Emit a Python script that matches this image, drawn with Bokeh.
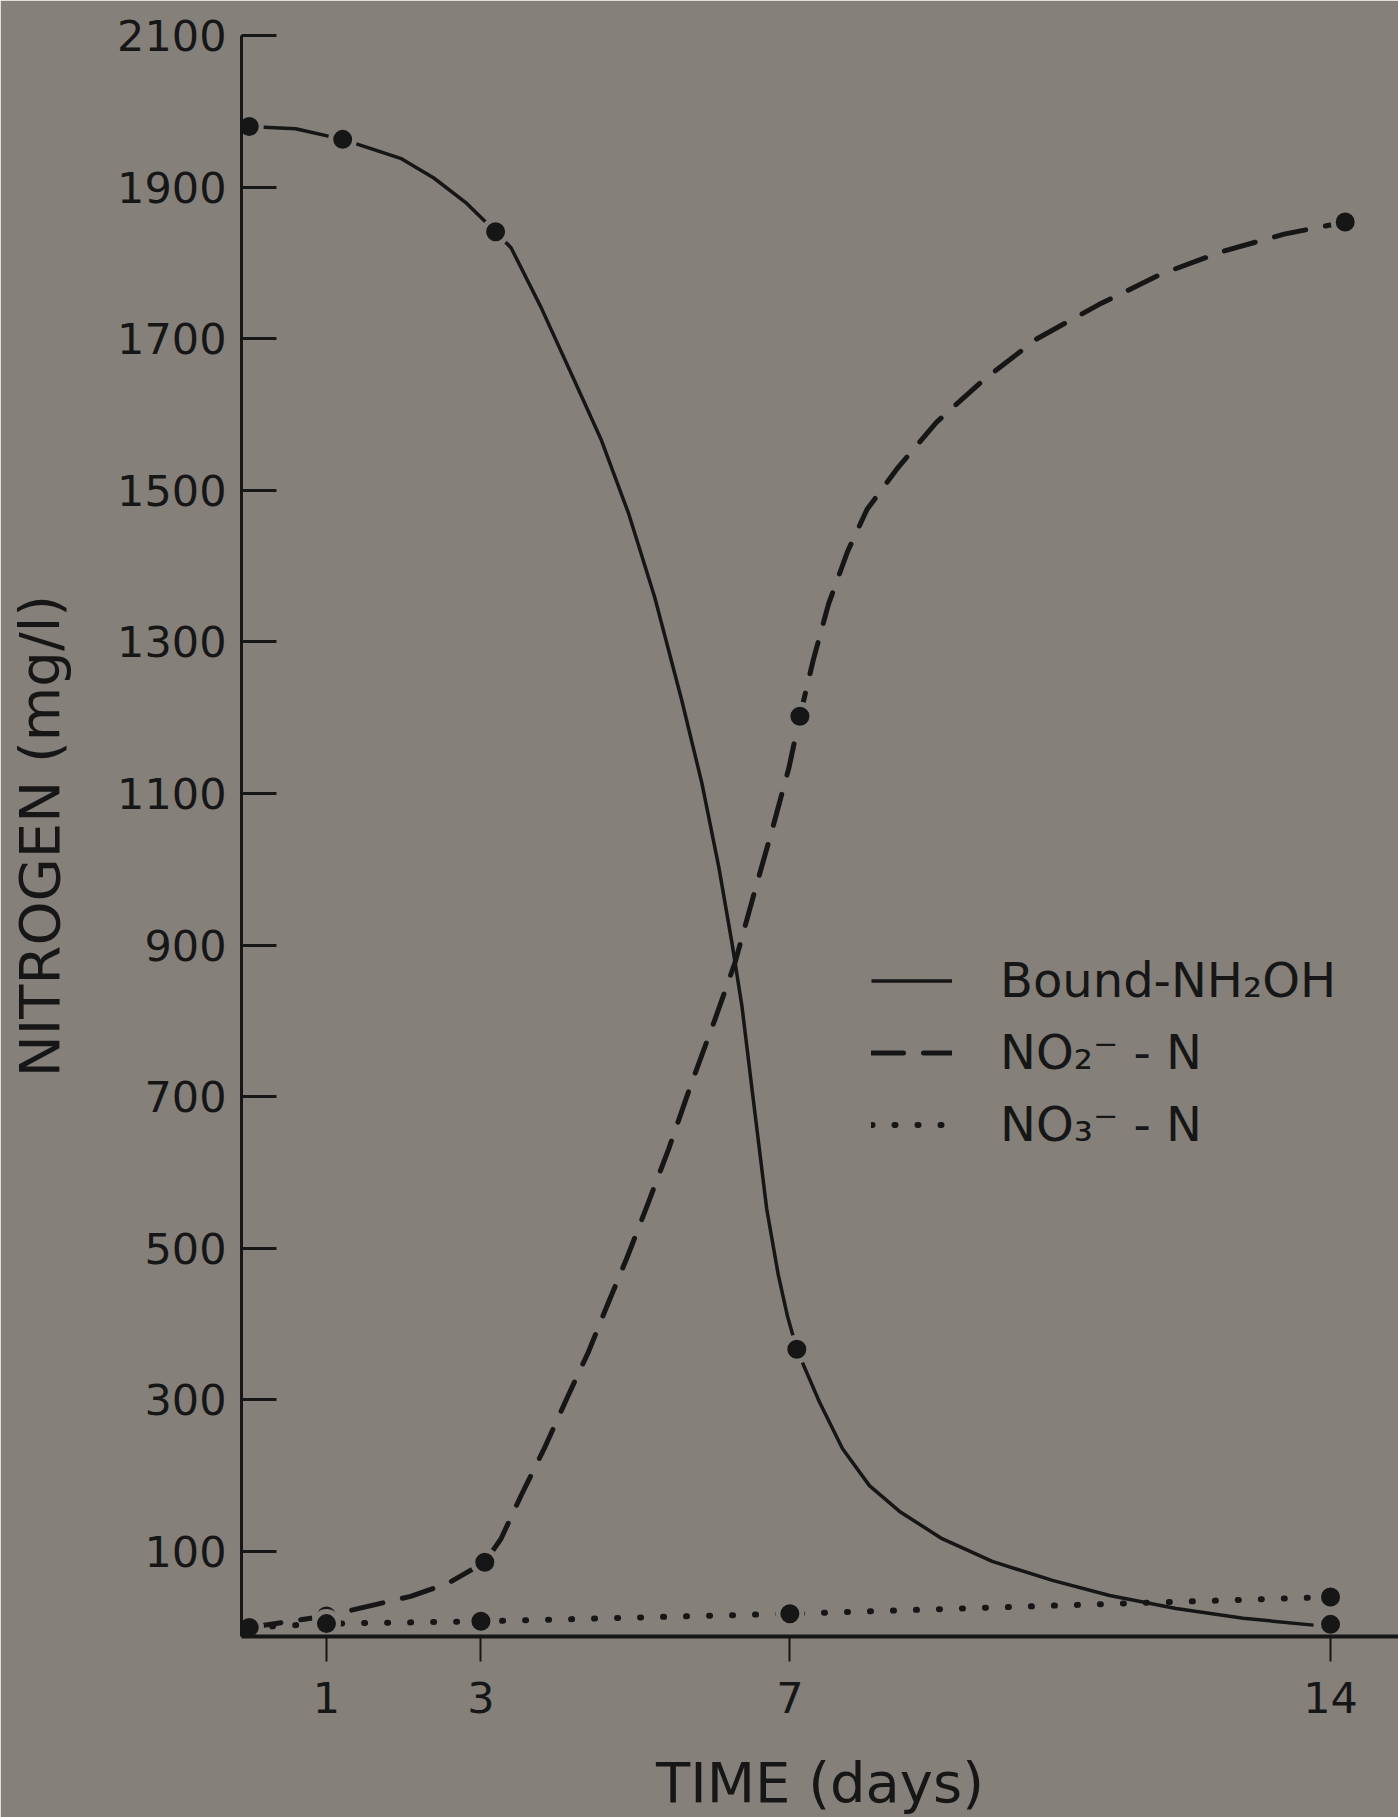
from bokeh.plotting import figure
from bokeh.models import FixedTicker, Legend, LegendItem, Range1d
from bokeh.embed import file_html
from bokeh.resources import INLINE

# ---- data ----
# measured points (days, mg/l)
bound_days = [0, 1.21, 3.19, 7.09, 14.0]
bound_vals = [1980, 1963, 1841, 367, 4]

no2_days = [0, 1.0, 3.05, 7.13, 14.19]
no2_vals = [0, 15, 86, 1202, 1854]

no3_days = [0, 1.0, 3.0, 7.0, 14.0]
no3_vals = [0, 5, 8, 18, 40]

# hand-drawn smooth curves
bound_curve_days = [0, 0.6, 1.21, 1.96, 2.39, 2.8, 3.19, 3.39, 3.78, 4.21, 4.56, 4.91,
                    5.25, 5.6, 5.86, 6.08, 6.25, 6.38, 6.51, 6.7, 6.85, 6.97, 7.09,
                    7.16, 7.38, 7.68, 8.03, 8.42, 8.97, 9.62, 10.4, 11.14, 12.0,
                    12.87, 13.78]
bound_curve_vals = [1980, 1977, 1963, 1938, 1912, 1880, 1841, 1820, 1741, 1645, 1566, 1470,
                    1359, 1223, 1114, 1003, 903, 819, 710, 552, 465, 410, 367,
                    350, 298, 236, 187, 153, 117, 87, 62, 42, 25,
                    12, 3]

no2_curve_days = [0, 1.0, 2.09, 2.57, 3.05, 3.26, 3.52, 3.82, 4.13, 4.39, 4.6, 4.9,
                  5.17, 5.43, 5.73, 6.03, 6.29, 6.55, 6.77, 6.99, 7.13, 7.3, 7.5,
                  7.75, 8.0, 8.4, 8.9, 9.5, 10.2, 11.0, 11.8, 12.6, 13.4, 14.19]
no2_curve_vals = [0, 15, 41, 58, 86, 117, 174, 236, 306, 363, 416, 490,
                  561, 631, 719, 802, 877, 973, 1052, 1135, 1202, 1275, 1350,
                  1420, 1475, 1530, 1590, 1645, 1700, 1745, 1785, 1815, 1838, 1854]

x_ticks = [1, 3, 7, 14]
y_ticks = [100, 300, 500, 700, 900, 1100, 1300, 1500, 1700, 1900, 2100]

labels = ["Bound-NH\u2082OH", "NO\u2082\u207b - N", "NO\u2083\u207b - N"]

BG = "#85817a"
INK = "#161616"
FONT = "DejaVu Sans"

p = figure(width=1398, height=1817,
           x_range=Range1d(-0.1, 14.88), y_range=Range1d(-12, 2100),
           output_backend="svg", toolbar_location=None,
           min_border_top=35, min_border_right=0, min_border_left=241, min_border_bottom=180)
p.background_fill_color = BG
p.border_fill_color = BG
p.outline_line_color = BG
p.outline_line_width = 2
p.grid.visible = False

# axes
p.xaxis.ticker = FixedTicker(ticks=x_ticks)
p.yaxis.ticker = FixedTicker(ticks=y_ticks)
for ax in (p.xaxis[0], p.yaxis[0]):
    ax.axis_line_color = INK
    ax.major_tick_line_color = INK
    ax.minor_tick_line_color = None
    ax.major_label_text_font = FONT
    ax.major_label_text_font_size = "43px"
    ax.major_label_text_color = INK
    ax.axis_label_text_font = FONT
    ax.axis_label_text_font_size = "56px"
    ax.axis_label_text_font_style = "normal"
    ax.axis_label_text_color = INK

p.xaxis.axis_line_width = 4
p.xaxis.major_tick_line_width = 2
p.xaxis.major_tick_in = 0
p.xaxis.major_tick_out = 25
p.xaxis.major_label_standoff = 20
p.xaxis.axis_label = "TIME (days)"
p.xaxis.axis_label_standoff = 34

p.yaxis.axis_line_width = 3
p.yaxis.major_tick_line_width = 3
p.yaxis.major_tick_in = 35
p.yaxis.major_tick_out = 0
p.yaxis.major_label_standoff = 15
p.yaxis.axis_label = "NITROGEN (mg/l)"
p.yaxis.axis_label_standoff = 42

# curves
r_bound = p.line(bound_curve_days, bound_curve_vals, line_color=INK, line_width=3.5,
                 line_join="round")
r_no2 = p.line(no2_curve_days, no2_curve_vals, line_color=INK, line_width=5,
               line_dash="32 20", line_cap="round", line_join="round")
r_no3 = p.line(no3_days, no3_vals, line_color=INK, line_width=6,
               line_dash="1 22", line_cap="round")

# measured points (with a gap around each, as in the drawing)
for xs, ys in ((bound_days, bound_vals), (no2_days, no2_vals), (no3_days, no3_vals)):
    p.scatter(xs, ys, size=24, fill_color=INK, line_color=BG, line_width=5)

legend = Legend(items=[LegendItem(label=labels[0], renderers=[r_bound]),
                       LegendItem(label=labels[1], renderers=[r_no2]),
                       LegendItem(label=labels[2], renderers=[r_no3])],
                location=(630, 484))
legend.background_fill_alpha = 0
legend.border_line_color = None
legend.label_text_font = FONT
legend.label_text_font_size = "48px"
legend.label_text_color = INK
legend.glyph_width = 81
legend.glyph_height = 53
legend.label_height = 53
legend.spacing = 16
legend.label_standoff = 48
legend.padding = 0
legend.margin = 0
p.add_layout(legend)

open("out.html", "w").write(file_html(p, INLINE))
